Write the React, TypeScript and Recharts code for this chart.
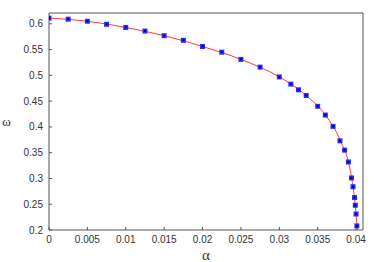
import { ComposedChart, Line, Scatter, XAxis, YAxis } from "recharts";

// measured points (blue squares)
const alpha = [
  0, 0.0025, 0.005, 0.0075, 0.01, 0.0125, 0.015, 0.0175, 0.02, 0.0225, 0.025, 0.0275, 0.03, 0.0315,
  0.0325, 0.0335, 0.035, 0.036, 0.037, 0.0379, 0.0385, 0.039, 0.0394, 0.0396, 0.0398, 0.0399, 0.04, 0.0401,
];
const omega = [
  0.611, 0.609, 0.605, 0.599, 0.593, 0.586, 0.577, 0.568, 0.556, 0.545, 0.531, 0.516, 0.497, 0.483,
  0.472, 0.461, 0.44, 0.423, 0.401, 0.373, 0.355, 0.332, 0.301, 0.284, 0.263, 0.248, 0.231, 0.208,
];

// red curve (runs down to the bottom edge)
const curveAlpha = [0, 0.005, 0.01, 0.015, 0.02, 0.025, 0.03, 0.0335, 0.036, 0.038, 0.039, 0.0396, 0.0399, 0.04016];
const curveOmega = [0.6114, 0.605, 0.593, 0.577, 0.556, 0.531, 0.497, 0.461, 0.423, 0.372, 0.332, 0.284, 0.248, 0.2];

const xTicks = [0, 0.005, 0.01, 0.015, 0.02, 0.025, 0.03, 0.035, 0.04];
const yTicks = [0.2, 0.25, 0.3, 0.35, 0.4, 0.45, 0.5, 0.55, 0.6];

const points = alpha.map((a, i) => ({ a, w: omega[i] }));
const curve = curveAlpha.map((a, i) => ({ a, w: curveOmega[i] }));

const X_DOMAIN: [number, number] = [0, 0.0409];
const Y_DOMAIN: [number, number] = [0.2, 0.621];

const AXIS = "#555";
const TEXT = "#333";
const tickFont = { fontSize: 10, fill: TEXT, fontFamily: "Liberation Sans, Arial, sans-serif" };

const Square = (props: any) => {
  const { cx, cy } = props;
  if (cx == null || cy == null) return null;
  return (
    <g>
      <rect x={cx - 2.5} y={cy - 2.5} width={5} height={5} fill="#2a2aff" />
      <rect x={cx - 1} y={cy - 1} width={2} height={2} fill="#00008b" />
    </g>
  );
};

const OmegaLabel = (props: any) => {
  const vb = props.viewBox || {};
  return (
    <text
      x={6.5}
      y={vb.y + vb.height / 2 + 4}
      textAnchor="middle"
      fontSize={13}
      fontFamily="Liberation Serif, Times New Roman, serif"
      fill={TEXT}
    >
      ω
    </text>
  );
};

export default function App() {
  return (
    <div style={{ position: "absolute", left: 0, top: 0 }}>
      <ComposedChart width={374} height={262} margin={{ top: 12, right: 10, bottom: 0, left: 0 }}>
        <XAxis
          xAxisId="bottom"
          dataKey="a"
          type="number"
          domain={X_DOMAIN}
          ticks={xTicks}
          allowDataOverflow
          tickSize={-3}
          tickMargin={9}
          height={32}
          stroke={AXIS}
          tick={tickFont}
          tickFormatter={(v: number) => String(v)}
          label={{
            value: "α",
            position: "insideBottom",
            offset: 2,
            fontSize: 15,
            fill: TEXT,
            fontFamily: "Liberation Serif, Times New Roman, serif",
          }}
        />
        <XAxis
          xAxisId="top"
          orientation="top"
          dataKey="a"
          type="number"
          domain={X_DOMAIN}
          ticks={xTicks}
          allowDataOverflow
          tickSize={-3}
          height={1}
          stroke={AXIS}
          tick={false}
        />
        <YAxis
          yAxisId="left"
          dataKey="w"
          type="number"
          domain={Y_DOMAIN}
          ticks={yTicks}
          allowDataOverflow
          tickSize={-3}
          tickMargin={9}
          width={49}
          stroke={AXIS}
          tick={tickFont}
          tickFormatter={(v: number) => String(v)}
          label={<OmegaLabel />}
        />
        <YAxis
          yAxisId="right"
          orientation="right"
          dataKey="w"
          type="number"
          domain={Y_DOMAIN}
          ticks={yTicks}
          allowDataOverflow
          tickSize={-3}
          width={1}
          stroke={AXIS}
          tick={false}
        />
        {/* invisible series so the top/right frame axes are laid out */}
        <Line
          xAxisId="top"
          yAxisId="right"
          data={curve}
          dataKey="w"
          stroke="none"
          dot={false}
          activeDot={false}
          isAnimationActive={false}
        />
        <Line
          xAxisId="bottom"
          yAxisId="left"
          data={curve}
          dataKey="w"
          type="monotone"
          stroke="#ff3b3b"
          strokeWidth={1}
          dot={false}
          activeDot={false}
          isAnimationActive={false}
        />
        <Scatter
          xAxisId="bottom"
          yAxisId="left"
          data={points}
          dataKey="w"
          shape={<Square />}
          isAnimationActive={false}
        />
      </ComposedChart>
    </div>
  );
}
